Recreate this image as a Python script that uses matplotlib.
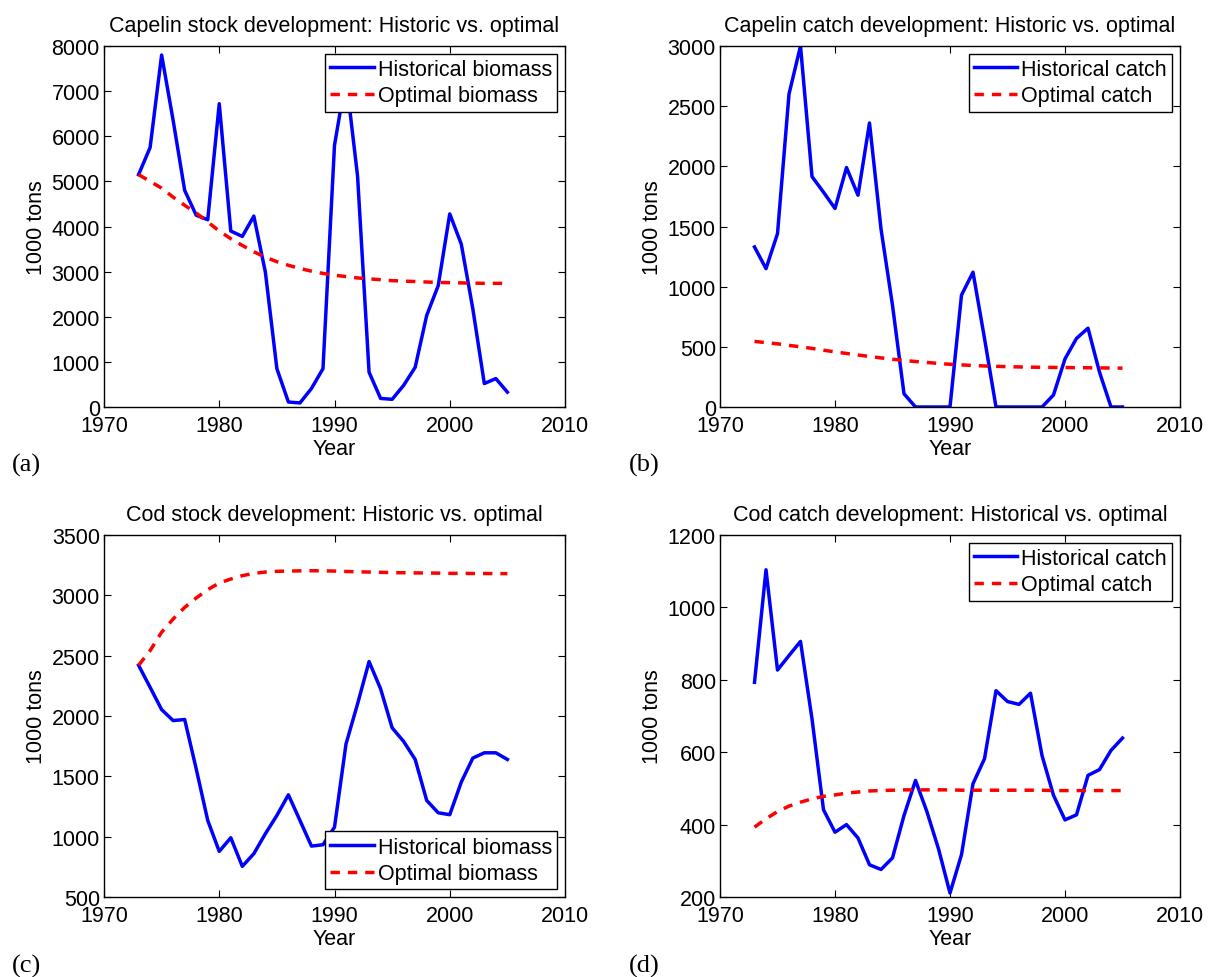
import matplotlib
matplotlib.use("Agg")
from matplotlib import pyplot as plt
import numpy as np

years = np.arange(1973, 2006)

# Capelin stock (1000 tons)
capelin_hist_biomass = [5150, 5750, 7800, 6350, 4800, 4250, 4150, 6720, 3900, 3780,
                        4230, 2990, 850, 110, 90, 410, 850, 5800, 7300, 5120,
                        770, 190, 170, 480, 880, 2030, 2690, 4280, 3610, 2180,
                        520, 630, 330]
capelin_opt_biomass = [5150, 5000, 4850, 4650, 4470, 4300, 4100, 3900, 3730, 3580,
                       3440, 3320, 3220, 3140, 3070, 3010, 2960, 2920, 2890, 2860,
                       2840, 2820, 2800, 2790, 2780, 2770, 2760, 2755, 2750, 2745,
                       2740, 2740, 2740]

# Capelin catch (1000 tons)
capelin_hist_catch = [1330, 1150, 1440, 2600, 3000, 1915, 1785, 1650, 1990, 1760,
                      2360, 1480, 845, 110, 0, 0, 0, 0, 930, 1120,
                      570, 0, 0, 0, 0, 0, 100, 400, 570, 655,
                      290, 0, 0]
capelin_opt_catch = [545, 535, 525, 512, 500, 487, 472, 458, 445, 432,
                     420, 408, 397, 387, 378, 370, 362, 355, 350, 345,
                     341, 338, 335, 333, 331, 330, 329, 328, 327, 326,
                     325, 324, 323]

# Cod stock (1000 tons)
cod_hist_biomass = [2420, 2238, 2053, 1962, 1971, 1562, 1135, 878, 991, 754,
                    859, 1024, 1176, 1347, 1135, 922, 933, 1079, 1769, 2100,
                    2451, 2225, 1902, 1789, 1640, 1300, 1198, 1182, 1452, 1651,
                    1695, 1695, 1640]
cod_opt_biomass = [2420, 2542, 2694, 2804, 2900, 2978, 3047, 3102, 3135, 3163,
                   3182, 3193, 3199, 3201, 3203, 3204, 3203, 3201, 3198, 3195,
                   3193, 3191, 3188, 3187, 3186, 3185, 3184, 3182, 3182, 3181,
                   3181, 3180, 3180]

# Cod catch (1000 tons)
cod_hist_catch = [793, 1104, 827, 867, 906, 692, 441, 379, 400, 363,
                  289, 276, 308, 425, 522, 435, 333, 211, 317, 513,
                  582, 770, 740, 732, 763, 591, 481, 413, 427, 536,
                  552, 605, 639]
cod_opt_catch = [393, 416, 436, 451, 462, 471, 478, 482, 487, 490,
                 493, 494, 495, 496, 496, 496, 496, 496, 495, 495,
                 495, 495, 495, 495, 495, 495, 494, 494, 494, 494,
                 494, 494, 494]

panels = [
    ("Capelin stock development: Historic vs. optimal", capelin_hist_biomass, capelin_opt_biomass,
     "Historical biomass", "Optimal biomass", (0, 8000), np.arange(0, 8001, 1000), "upper right", "(a)"),
    ("Capelin catch development: Historic vs. optimal", capelin_hist_catch, capelin_opt_catch,
     "Historical catch", "Optimal catch", (0, 3000), np.arange(0, 3001, 500), "upper right", "(b)"),
    ("Cod stock development: Historic vs. optimal", cod_hist_biomass, cod_opt_biomass,
     "Historical biomass", "Optimal biomass", (500, 3500), np.arange(500, 3501, 500), "lower right", "(c)"),
    ("Cod catch development: Historical vs. optimal", cod_hist_catch, cod_opt_catch,
     "Historical catch", "Optimal catch", (200, 1200), np.arange(200, 1201, 200), "upper right", "(d)"),
]

W, H = 1208, 978
FS = 15.5
plt.rcParams["font.family"] = ["Liberation Sans", "DejaVu Sans"]
fig = plt.figure(figsize=(W / 100, H / 100), dpi=100)

# pixel boxes: left, top, right, bottom
boxes = [(104, 47, 565, 408), (720, 47, 1180, 408),
         (104, 536, 565, 898), (720, 536, 1180, 898)]
letter_pos = [(12, 465), (629, 465), (12, 966), (629, 966)]

for (title, hist, opt, lab_h, lab_o, ylim, yt, loc, letter), box, lp in zip(panels, boxes, letter_pos):
    l, t, r, b = box
    ax = fig.add_axes([l / W, 1 - b / H, (r - l) / W, (b - t) / H])
    ax.plot(years, hist, color="blue", lw=2.5, label=lab_h)
    ax.plot(years, opt, color="red", lw=2.5, ls=(0, (2.7, 2.3)), label=lab_o)
    ax.set_xlim(1970, 2010)
    ax.set_ylim(*ylim)
    ax.set_xticks(np.arange(1970, 2011, 10))
    ax.set_yticks(yt)
    ax.tick_params(direction="in", top=True, right=True, length=5, width=0.8,
                   labelsize=FS, pad=3)
    ax.tick_params(axis="x", pad=6)
    for s in ax.spines.values():
        s.set_linewidth(1.0)
    ax.set_title(title, fontsize=FS, pad=11)
    ax.set_xlabel("Year", fontsize=FS, labelpad=1)
    ax.set_ylabel("1000 tons", fontsize=FS, labelpad=3)
    leg = ax.legend(loc=loc, fontsize=FS, fancybox=False, framealpha=1,
                    edgecolor="black", handlelength=2.0, handletextpad=0.2,
                    borderaxespad=0.35, labelspacing=0.25, borderpad=0.25)
    leg.get_frame().set_linewidth(1.0)
    fig.text(lp[0] / W, 1 - lp[1] / H, letter, fontsize=19, va="center", ha="left",
             family=["Liberation Serif", "DejaVu Serif"])

plt.savefig("out.png", dpi=100)
